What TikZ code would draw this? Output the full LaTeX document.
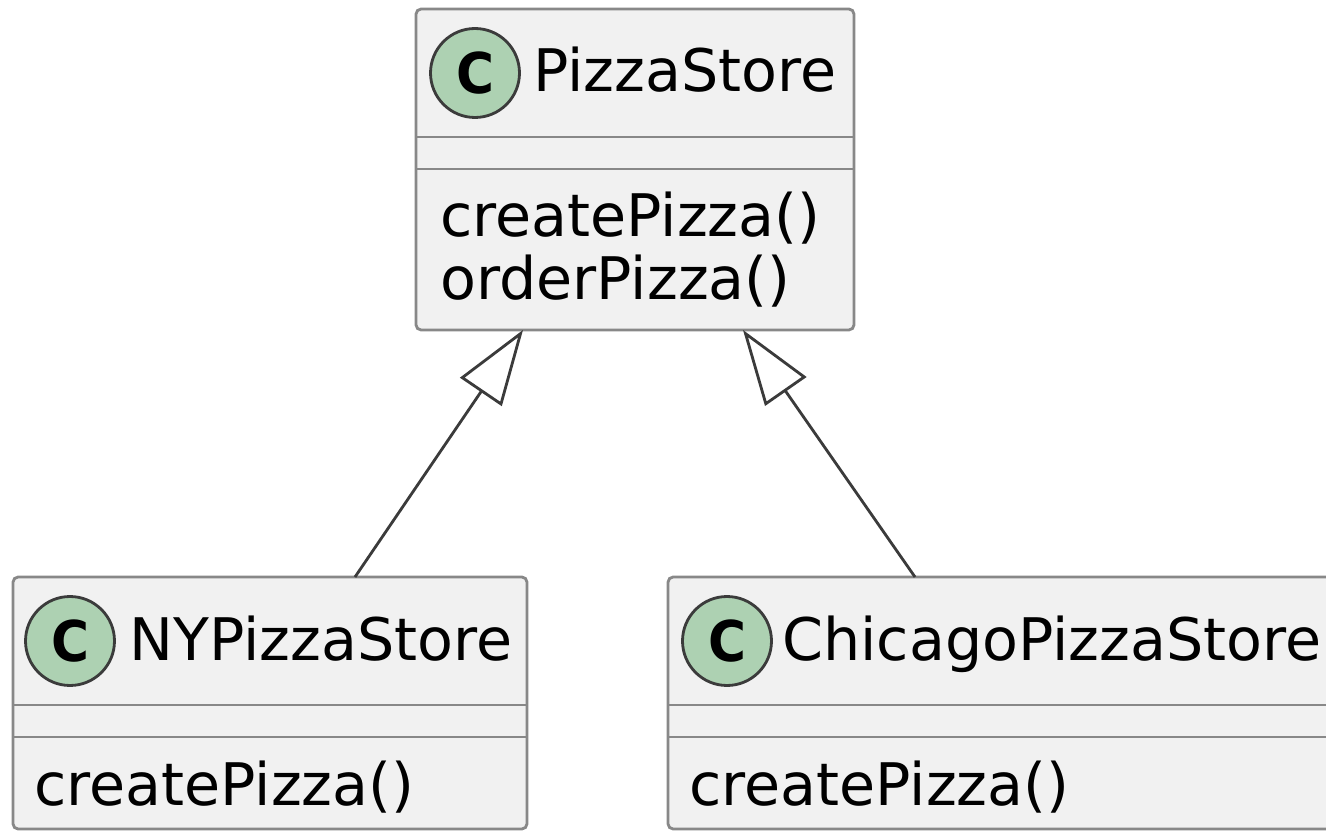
\documentclass[tikz,border=0pt]{standalone}
\usepackage{fontspec}
\setmainfont{DejaVu Sans}
\usetikzlibrary{arrows.meta}
\definecolor{boxfill}{HTML}{F1F1F1}
\definecolor{boxline}{HTML}{888888}
\definecolor{spotfill}{HTML}{ADD1B2}
\definecolor{inkline}{HTML}{181818}
\tikzset{
	classbox/.style={draw=boxline, fill=boxfill, line width=1.6pt, rounded corners=0.1cm, inner sep=0, outer sep=0},
	divider/.style={draw=boxline, line width=1.6pt},
	spot/.style={circle, draw=inkline!85, fill=spotfill, line width=1.6pt, minimum size=1.78cm, inner sep=0, font=\fontsize{32}{32}\selectfont\bfseries},
	txt/.style={anchor=base west, inner sep=0, font=\fontsize{33.4}{40}\selectfont},
	inherit/.style={draw=inkline!85, line width=1.6pt, -{Triangle[fill=white, length=1.5cm, width=1cm]}}
}

\begin{document}
\begin{tikzpicture}[x=0.02cm, y=-0.02cm]
			%%%%% START %%%%%
			\useasboundingbox (0, 0) rectangle (1326, 831);
			
			% PizzaStore
			\node[classbox, minimum width=8.76cm, minimum height=6.42cm] (store) at (635, 169.5) {};
			\draw[divider] (416, 137) -- (854, 137);
			\draw[divider] (416, 169) -- (854, 169);
			\node[spot] (storeC) at (475, 73) {\scalebox{0.92}[1]{C}};
			\node[txt] (storeName) at (533, 92) {PizzaStore};
			\node[txt] (storeM1) at (440, 237) {createPizza()};
			\node[txt] (storeM2) at (440, 300) {orderPizza()};
			
			% NYPizzaStore
			\node[classbox, minimum width=10.28cm, minimum height=5.04cm] (ny) at (270, 703) {};
			\draw[divider] (13, 705) -- (527, 705);
			\draw[divider] (13, 737) -- (527, 737);
			\node[spot] (nyC) at (70, 641) {\scalebox{0.92}[1]{C}};
			\node[txt] (nyName) at (129, 660) {NYPizzaStore};
			\node[txt] (nyM1) at (34, 805) {createPizza()};
			
			% ChicagoPizzaStore
			\node[classbox, minimum width=13.54cm, minimum height=5.04cm] (chicago) at (1006.5, 703) {};
			\draw[divider] (668, 705) -- (1345, 705);
			\draw[divider] (668, 737) -- (1345, 737);
			\node[spot] (chicagoC) at (727, 641) {\scalebox{0.92}[1]{C}};
			\node[txt] (chicagoName) at (782, 660) {ChicagoPizzaStore};
			\node[txt] (chicagoM1) at (689, 805) {createPizza()};
			
			% extends
			\draw[inherit] ([xshift=1.7cm]ny.north) -- ([xshift=-2.24cm]store.south);
			\draw[inherit] ([xshift=-1.83cm]chicago.north) -- ([xshift=2.16cm]store.south);
			%%%%% END %%%%%
\end{tikzpicture}
\end{document}
